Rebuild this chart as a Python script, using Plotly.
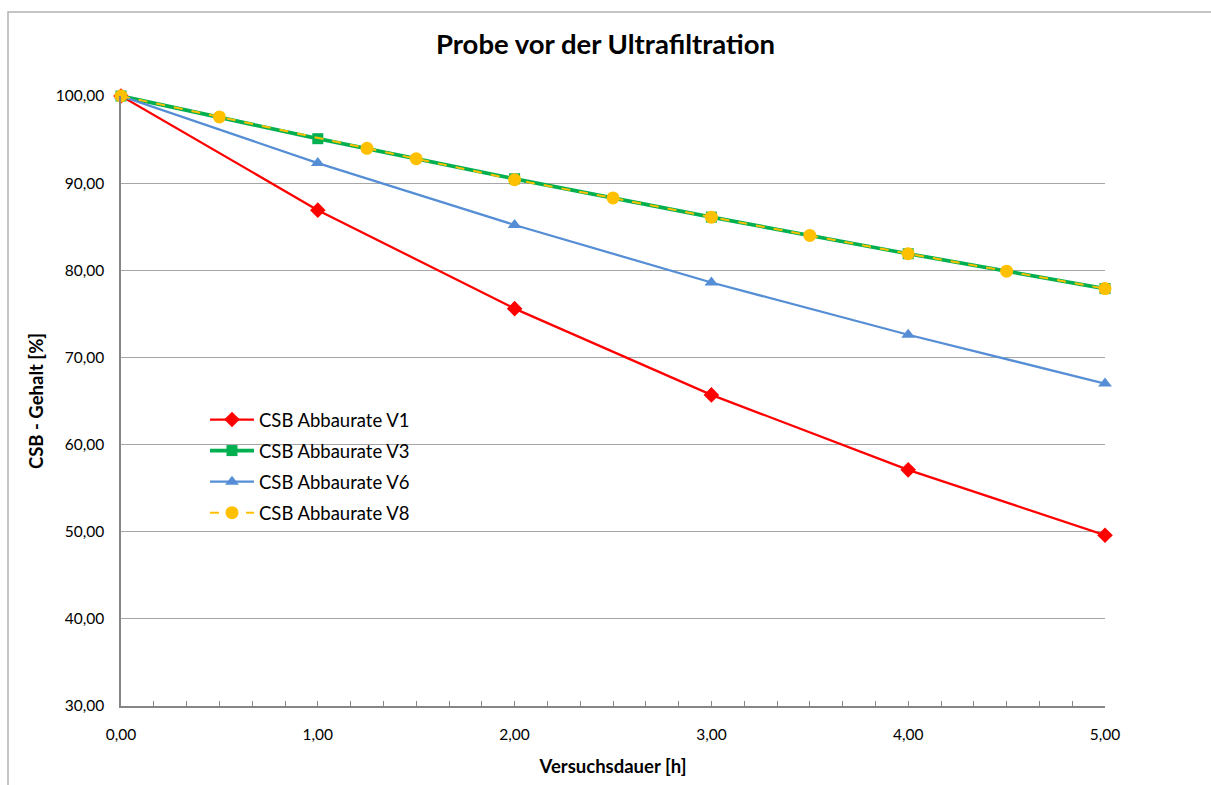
import plotly.graph_objects as go

# Data
x_main = [0, 1, 2, 3, 4, 5]
v1 = [100.0, 86.9, 75.6, 65.7, 57.1, 49.6]
v3 = [100.0, 95.1, 90.5, 86.1, 81.9, 77.9]
v6 = [100.0, 92.3, 85.2, 78.6, 72.6, 67.0]
x_v8 = [0, 0.5, 1.25, 1.5, 2, 2.5, 3, 3.5, 4, 4.5, 5]
v8 = [100.0, 97.6, 94.0, 92.8, 90.4, 88.3, 86.1, 84.0, 81.9, 79.9, 77.9]

names = ["CSB Abbaurate V1", "CSB Abbaurate V3", "CSB Abbaurate V6", "CSB Abbaurate V8"]

W, H = 1211, 785
L, R, T, B = 121, 106, 96, 79
pw, ph = W - L - R, H - T - B

fig = go.Figure()
fig.add_trace(go.Scatter(x=x_main, y=v1, name=names[0], mode="lines+markers",
                         line=dict(color="#FF0000", width=2.25),
                         marker=dict(symbol="diamond", size=12, color="#FF0000"),
                         cliponaxis=False, legendgroup="a"))
fig.add_trace(go.Scatter(x=x_main, y=v3, name=names[1], mode="lines+markers",
                         line=dict(color="#00B050", width=3.75),
                         marker=dict(symbol="square", size=11, color="#00B050"),
                         cliponaxis=False, legendgroup="b"))
fig.add_trace(go.Scatter(x=x_main, y=v6, name=names[2], mode="lines+markers",
                         line=dict(color="#558ED5", width=2.25),
                         marker=dict(symbol="triangle-up", size=12, color="#558ED5"),
                         cliponaxis=False, legendgroup="c"))
fig.add_trace(go.Scatter(x=x_v8, y=v8, name=names[3], mode="lines+markers",
                         line=dict(color="#FFC000", width=2, dash="dash"),
                         marker=dict(symbol="circle", size=13, color="#FFC000"),
                         cliponaxis=False, legendgroup="d"))

def px_to_paper_x(px):
    return (px - L) / pw

def px_to_paper_y(py):
    return (H - B - py) / ph

fig.add_shape(type="rect", xref="paper", yref="paper",
              x0=px_to_paper_x(8), x1=px_to_paper_x(1216),
              y0=px_to_paper_y(792), y1=px_to_paper_y(12),
              line=dict(color="#B3B3B3", width=1.5), fillcolor="rgba(0,0,0,0)",
              layer="below")

font_family = "Lato, Calibri, sans-serif"

fig.update_layout(
    width=W, height=H,
    margin=dict(l=L, r=R, t=T, b=B),
    paper_bgcolor="white", plot_bgcolor="white",
    separators=",.",
    font=dict(family=font_family, color="#000000", size=15.5),
    title=dict(text="<b>Probe vor der Ultrafiltration</b>", x=0.5, xanchor="center",
               y=1 - 44 / H, yanchor="middle", font=dict(size=27.5, family=font_family)),
    showlegend=True,
    legend=dict(x=px_to_paper_x(205), y=px_to_paper_y(401), xanchor="left", yanchor="top",
                bgcolor="rgba(0,0,0,0)", font=dict(size=18.5, family=font_family),
                tracegroupgap=4, itemwidth=44),
    xaxis=dict(range=[0, 5], tickmode="linear", tick0=0, dtick=1, tickformat=".2f",
               showgrid=False, zeroline=False, showline=True, linecolor="#868686", linewidth=1.5,
               ticks="inside", ticklen=5, tickcolor="#868686", tickwidth=1,
               ticklabelstandoff=14,
               minor=dict(tick0=0, dtick=1/6, ticks="inside", ticklen=5, tickcolor="#868686",
                          showgrid=False),
               title=dict(text="<b>Versuchsdauer [h]</b>", font=dict(size=18.5, family=font_family),
                          standoff=18)),
    yaxis=dict(range=[30, 100], tickmode="linear", tick0=30, dtick=10, tickformat=".2f",
               showgrid=True, gridcolor="#A6A6A6", gridwidth=1,
               zeroline=False, showline=True, linecolor="#868686", linewidth=1.5,
               ticks="", ticklabelstandoff=12,
               title=dict(text="<b>CSB - Gehalt [%]</b>", font=dict(size=18.5, family=font_family),
                          standoff=7)),
)

fig.write_html("out.html")
